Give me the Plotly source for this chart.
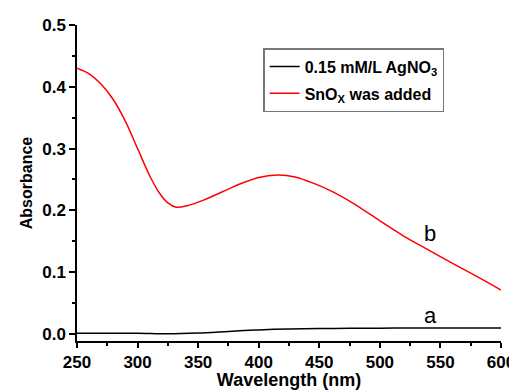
import plotly.graph_objects as go

# Data
wl_b = [250, 260, 270, 280, 290, 300, 310, 318, 325, 332, 340, 355, 370, 385,
        400, 415, 430, 445, 460, 480, 500, 520, 540, 560, 580, 600]
abs_b = [0.430, 0.421, 0.404, 0.379, 0.344, 0.300, 0.256, 0.228, 0.212, 0.205, 0.207, 0.217, 0.230, 0.243,
         0.253, 0.257, 0.254, 0.244, 0.231, 0.209, 0.183, 0.158, 0.136, 0.114, 0.093, 0.071]

wl_a = [250, 275, 300, 325, 350, 375, 400, 425, 450, 475, 500, 525, 550, 575, 600]
abs_a = [0.001, 0.001, 0.0012, 0.0003, 0.0015, 0.004, 0.0065, 0.008, 0.0088, 0.009,
         0.0093, 0.0094, 0.0094, 0.0095, 0.0095]

x_ticks = [250, 300, 350, 400, 450, 500, 550, 600]
y_ticks = [0.0, 0.1, 0.2, 0.3, 0.4, 0.5]

FONT = "Liberation Sans, Arial"

fig = go.Figure()
fig.add_trace(go.Scatter(x=wl_a, y=abs_a, mode="lines", name="0.15 mM/L AgNO<sub>3</sub>",
                         legendgroup="a",
                         line=dict(color="black", width=1.5, shape="spline", smoothing=0.8)))
fig.add_trace(go.Scatter(x=wl_b, y=abs_b, mode="lines", name="SnO<sub>X</sub> was added",
                         legendgroup="b",
                         line=dict(color="red", width=1.5, shape="spline", smoothing=0.8)))

fig.add_annotation(x=541.5, y=0.163, text="b", showarrow=False,
                   font=dict(family=FONT, size=22, color="black"))
fig.add_annotation(x=542, y=0.03, text="a", showarrow=False,
                   font=dict(family=FONT, size=22, color="black"))

axis_font = dict(family=FONT, size=17, color="black", weight="bold")

# page body has an 8px margin, so the figure is sized/offset to fit the 517x390 window
fig.update_layout(
    width=509, height=382,
    margin=dict(l=69, r=16, t=17, b=49),
    paper_bgcolor="white", plot_bgcolor="white",
    showlegend=True,
    legend=dict(x=0.439, y=0.927, xanchor="left", yanchor="top",
                bordercolor="#777777", borderwidth=1.5, bgcolor="white",
                font=dict(family=FONT, size=16, color="black", weight="bold"),
                tracegroupgap=3, itemwidth=30),
    xaxis=dict(range=[250, 600], tickvals=x_ticks, showgrid=False, zeroline=False, automargin=False,
               showline=True, linecolor="black", linewidth=1.5,
               ticks="outside", ticklen=5, tickwidth=1.5, tickcolor="black",
               tickfont=axis_font,
               minor=dict(ticks="outside", ticklen=3, tickwidth=1.5, tickcolor="black", dtick=25),
               title=dict(text="Wavelength (nm)", font=dict(family=FONT, size=18,
                                                            color="black", weight="bold"), standoff=7)),
    yaxis=dict(range=[-0.0115, 0.5], tickvals=y_ticks, tickformat=".1f", showgrid=False, zeroline=False,
               automargin=False,
               showline=True, linecolor="black", linewidth=1.5,
               ticks="outside", ticklen=6, tickwidth=1.5, tickcolor="black",
               tickfont=axis_font,
               minor=dict(ticks="outside", ticklen=3, tickwidth=1.5, tickcolor="black", dtick=0.05, tick0=0),
               title=dict(text="Absorbance", font=dict(family=FONT, size=16,
                                                       color="black", weight="bold"), standoff=6)),
)

fig.write_html("out.html")
